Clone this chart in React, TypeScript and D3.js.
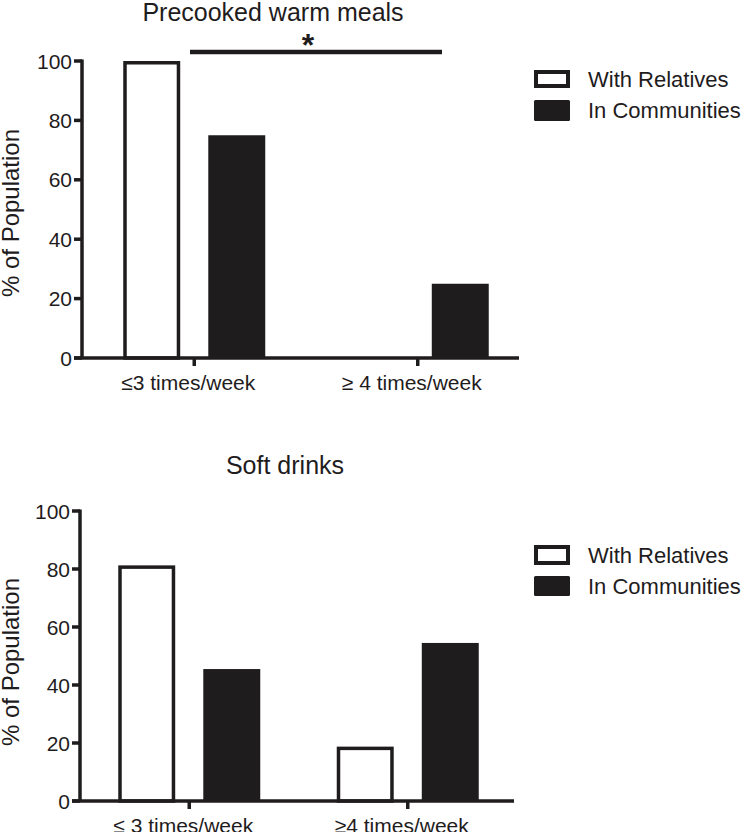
import React from "react";
import * as d3 from "d3";

const groups = ["≤3 times/week", "≥4 times/week"];
const groupLabelsTop = ["≤3 times/week", "≥ 4 times/week"];
const groupLabelsBottom = ["≤ 3 times/week", "≥4 times/week"];
const seriesNames = ["With Relatives", "In Communities"];
const yTicks = [0, 20, 40, 60, 80, 100];

const mealsRelatives = [100, 0];
const mealsCommunities = [75, 25];
const drinksRelatives = [81.25, 18.75];
const drinksCommunities = [45.5, 54.5];

const titles = ["Precooked warm meals", "Soft drinks"];
const yLabel = "% of Population";

const INK = "#1f1c1d";
const FONT = "'Liberation Sans', Arial, Helvetica, sans-serif";

type PanelProps = {
  title: string;
  titleX: number;
  titleY: number;
  rel: number[];
  com: number[];
  labels: string[];
  axisX: number;
  xEnd: number;
  bandRange: [number, number];
  y0: number;
  y100: number;
  legendY: number[];
  legendBoxH: number[];
  labelY: number;
  sig?: { x1: number; x2: number; y: number };
};

function Panel(p: PanelProps) {
  const y = d3.scaleLinear().domain([0, 100]).range([p.y0, p.y100]);
  const xg = d3.scaleBand<string>().domain(groups).range(p.bandRange).padding(0);
  const xs = d3
    .scaleBand<string>()
    .domain(seriesNames)
    .range([-71, 71])
    .paddingInner(0.33)
    .paddingOuter(0);
  const bw = xs.bandwidth();
  const sw = 3.5;
  const center = (g: string) => (xg(g) as number) + xg.bandwidth() / 2;
  const values = [p.rel, p.com];

  return (
    <g>
      <text x={p.titleX} y={p.titleY} textAnchor="middle" fontSize={25} fill={INK} fontFamily={FONT}>
        {p.title}
      </text>
      {/* bars */}
      {groups.map((g, gi) =>
        seriesNames.map((s, si) => {
          const v = values[si][gi];
          const x0 = center(g) + (xs(s) as number);
          if (si === 0) {
            if (v <= 0) return null;
            return (
              <rect
                key={g + s}
                x={x0 + sw / 2}
                y={y(v) + sw / 2}
                width={bw - sw}
                height={y(0) - y(v) - sw / 2}
                fill="#fff"
                stroke={INK}
                strokeWidth={sw}
              />
            );
          }
          return (
            <rect key={g + s} x={x0} y={y(v)} width={bw} height={y(0) - y(v)} fill={INK} />
          );
        })
      )}
      {/* y axis */}
      <line x1={p.axisX} x2={p.axisX} y1={y(100) - 1.5} y2={y(0)} stroke={INK} strokeWidth={3.5} />
      {yTicks.map((t) => (
        <g key={t}>
          <line x1={p.axisX - 8} x2={p.axisX} y1={y(t)} y2={y(t)} stroke={INK} strokeWidth={3.5} />
          <text
            x={p.axisX - 10}
            y={y(t)}
            dy="0.36em"
            textAnchor="end"
            fontSize={21}
            fill={INK}
            fontFamily={FONT}
          >
            {t}
          </text>
        </g>
      ))}
      {/* x axis */}
      <line x1={p.axisX - 8} x2={p.xEnd} y1={y(0)} y2={y(0)} stroke={INK} strokeWidth={3.5} />
      {groups.map((g, gi) => (
        <g key={g}>
          <line x1={center(g)} x2={center(g)} y1={y(0)} y2={y(0) + 8} stroke={INK} strokeWidth={3.5} />
          <text
            x={center(g) - 6}
            y={y(0) + 32}
            textAnchor="middle"
            fontSize={21}
            fill={INK}
            fontFamily={FONT}
          >
            {p.labels[gi]}
          </text>
        </g>
      ))}
      {/* y label */}
      <text
        transform={`translate(19, ${p.labelY}) rotate(-90)`}
        textAnchor="middle"
        fontSize={24}
        fill={INK}
        fontFamily={FONT}
      >
        {yLabel}
      </text>
      {/* significance */}
      {p.sig && (
        <g>
          <line x1={p.sig.x1} x2={p.sig.x2} y1={p.sig.y} y2={p.sig.y} stroke={INK} strokeWidth={4.5} />
          <text
            x={(p.sig.x1 + p.sig.x2) / 2 - 8}
            y={p.sig.y + 4}
            textAnchor="middle"
            fontSize={32}
            fontWeight="bold"
            fill={INK}
            fontFamily={FONT}
          >
            *
          </text>
        </g>
      )}
      {/* legend */}
      {seriesNames.map((s, si) => {
        const ly = p.legendY[si];
        const h = p.legendBoxH[si];
        return (
          <g key={s}>
            {si === 0 ? (
              <rect x={534 + 2} y={ly + 2} width={36 - 4} height={h - 4} fill="#fff" stroke={INK} strokeWidth={4} />
            ) : (
              <rect x={534} y={ly} width={36} height={h} rx={1.5} fill={INK} />
            )}
            <text x={588} y={ly + h / 2} dy="0.36em" fontSize={22} fill={INK} fontFamily={FONT}>
              {s}
            </text>
          </g>
        );
      })}
    </g>
  );
}

export default function App() {
  return (
    <svg
      width={742}
      height={832}
      style={{ position: "absolute", left: 0, top: 0, background: "#fff" }}
    >
      <rect width={742} height={832} fill="#fff" />
      <Panel
        title={titles[0]}
        titleX={273}
        titleY={21}
        rel={mealsRelatives}
        com={mealsCommunities}
        labels={groupLabelsTop}
        axisX={82}
        xEnd={519}
        bandRange={[82.5, 529.5]}
        y0={358}
        y100={61}
        legendY={[70, 100]}
        legendBoxH={[18, 21]}
        labelY={213}
        sig={{ x1: 190, x2: 442, y: 52 }}
      />
      <Panel
        title={titles[1]}
        titleX={285}
        titleY={474}
        rel={drinksRelatives}
        com={drinksCommunities}
        labels={groupLabelsBottom}
        axisX={80}
        xEnd={514}
        bandRange={[80, 517]}
        y0={801}
        y100={511}
        legendY={[545, 576]}
        legendBoxH={[20, 20]}
        labelY={662}
        sig={undefined}
      />
    </svg>
  );
}
